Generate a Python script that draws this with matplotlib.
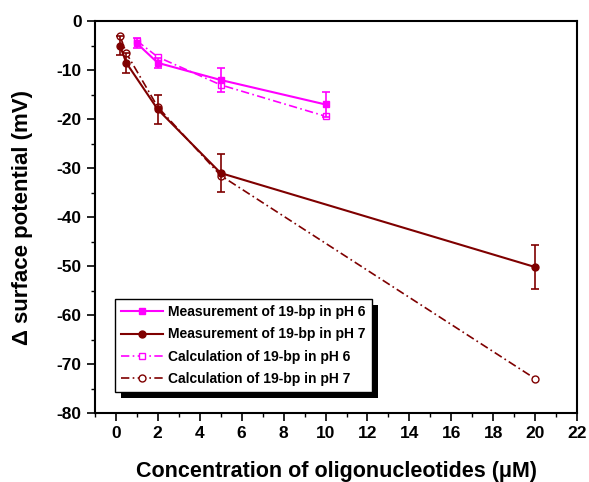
import matplotlib
matplotlib.use("Agg")
import matplotlib.pyplot as plt
from matplotlib.patches import Rectangle

plt.rcParams['font.family'] = ['Liberation Sans', 'DejaVu Sans']
plt.rcParams['font.weight'] = 'bold'
plt.rcParams['axes.unicode_minus'] = False

MAG = '#ff00ff'
DRD = '#7f0000'

x_m6 = [1, 2, 5, 10]
y_m6 = [-4.5, -8.5, -12.0, -17.0]
e_m6 = [1.0, 1.0, 2.5, 2.6]

x_c6 = [1, 2, 5, 10]
y_c6 = [-4.0, -7.3, -13.0, -19.4]

x_m7 = [0.2, 0.5, 2, 5, 20]
y_m7 = [-5.0, -8.5, -18.0, -31.0, -50.2]
e_m7 = [2.0, 2.0, 3.0, 3.8, 4.5]

x_c7 = [0.2, 0.5, 2, 5, 20]
y_c7 = [-3.0, -6.5, -17.5, -31.5, -73.0]

labels = ['Measurement of 19-bp in pH 6', 'Measurement of 19-bp in pH 7',
          'Calculation of 19-bp in pH 6', 'Calculation of 19-bp in pH 7']

fig = plt.figure(figsize=(5.89, 4.82), dpi=100)
ax = fig.add_axes([0.161, 0.143, 0.819, 0.813])

dashdot = (0, (5, 2, 1, 2))
h1, = ax.plot(x_m6, y_m6, color=MAG, marker='s', ms=5, lw=1.5, zorder=4)
ax.errorbar(x_m6, y_m6, yerr=e_m6, fmt='none', ecolor=MAG,
            capsize=3, elinewidth=1.2, capthick=1.2, zorder=4)
h2, = ax.plot(x_m7, y_m7, color=DRD, marker='o', ms=5, lw=1.5, zorder=4)
ax.errorbar(x_m7, y_m7, yerr=e_m7, fmt='none', ecolor=DRD,
            capsize=3, elinewidth=1.2, capthick=1.2, zorder=4)
h3, = ax.plot(x_c6, y_c6, color=MAG, marker='s', ms=5, mfc='white', lw=1.2,
              ls=dashdot, zorder=3)
h4, = ax.plot(x_c7, y_c7, color=DRD, marker='o', ms=5, mfc='white', lw=1.2,
              ls=dashdot, zorder=3)

ax.set_xlim(-1, 22)
ax.set_ylim(-80, 0)
ax.set_xticks(range(0, 23, 2))
ax.set_xticks(range(-1, 23, 1), minor=True)
ax.set_yticks(range(-80, 1, 10))
ax.set_yticks(range(-80, 1, 5), minor=True)
ax.tick_params(which='major', direction='out', length=6, width=1.2, labelsize=12.5)
ax.tick_params(which='minor', direction='out', length=3, width=1.0)
for lab in ax.get_xticklabels() + ax.get_yticklabels():
    lab.set_fontweight('bold')
for s in ax.spines.values():
    s.set_linewidth(1.5)

ax.set_xlabel('Concentration of oligonucleotides (\u03bcM)', fontsize=15.5,
              fontweight='bold', labelpad=14)
ax.set_ylabel('\u0394 surface potential (mV)', fontsize=16,
              fontweight='bold', labelpad=17)

leg = ax.legend([h1, h2, h3, h4], labels, loc='lower left',
                bbox_to_anchor=(0.041, 0.053), borderaxespad=0,
                frameon=True, fancybox=False,
                edgecolor='black', handlelength=3.0, borderpad=0.45,
                labelspacing=0.6, handletextpad=0.4,
                prop={'weight': 'bold', 'size': 10})
leg.get_frame().set_linewidth(1.0)
leg.get_frame().set_alpha(1)
leg.set_zorder(10)

fig.canvas.draw()
bb = leg.get_window_extent().transformed(fig.transFigure.inverted())
dx = 6 / 589
dy = 6 / 482
shadow = Rectangle((bb.x0 + dx, bb.y0 - dy), bb.width, bb.height,
                   transform=fig.transFigure, facecolor='black',
                   edgecolor='none', zorder=9, clip_on=False)
ax.add_artist(shadow)

fig.savefig('out.png', dpi=100)
